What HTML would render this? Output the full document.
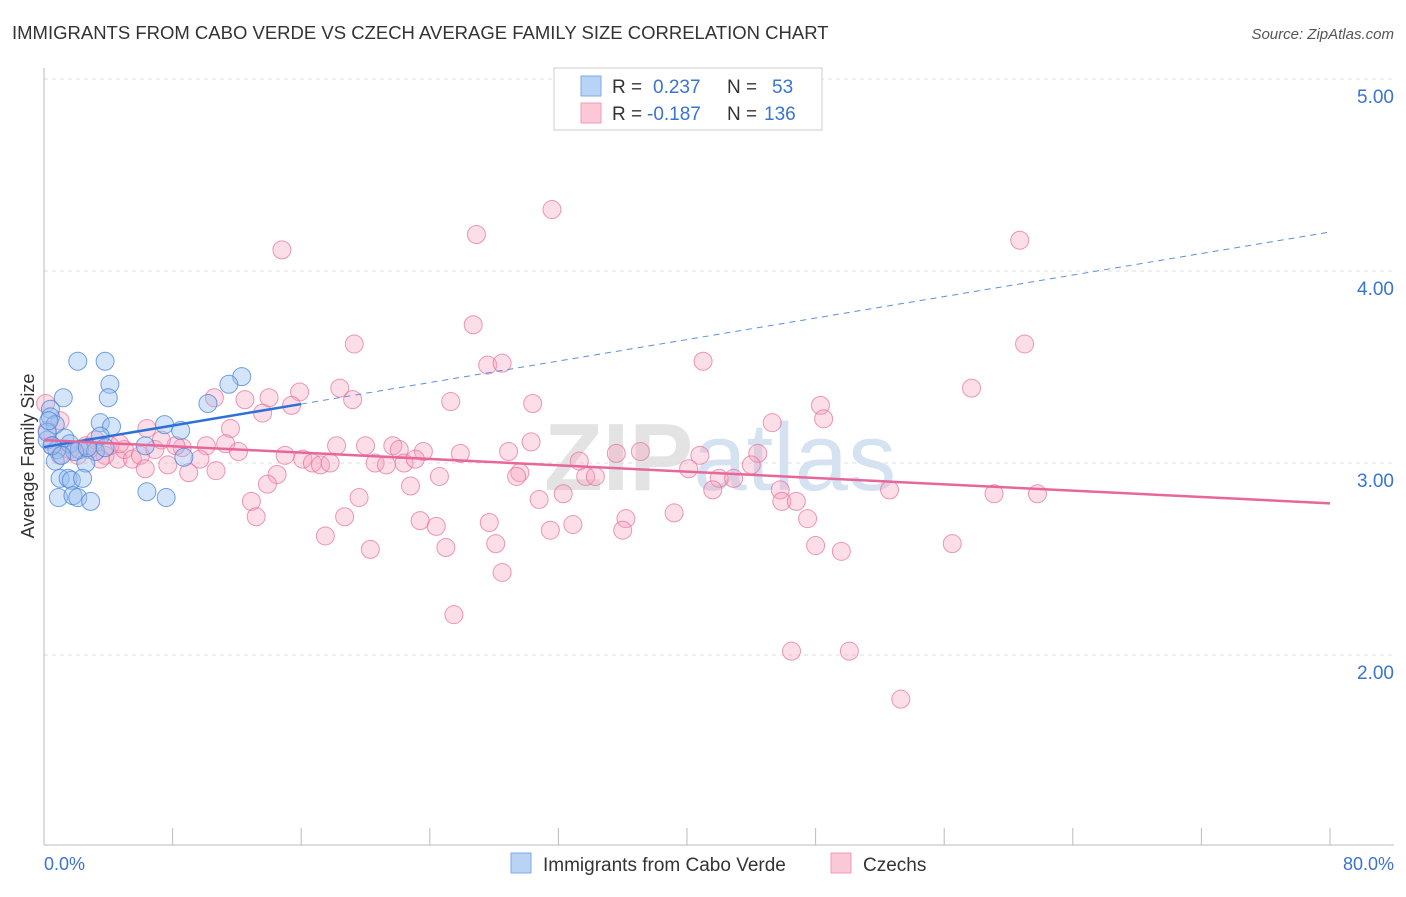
<!DOCTYPE html>
<html><head><meta charset="utf-8"><style>
body{margin:0;background:#fff;font-family:"Liberation Sans",sans-serif;}
svg text{font-family:"Liberation Sans",sans-serif;}
</style></head><body>
<svg id="chart" width="1406" height="892" viewBox="0 0 1406 892" xmlns="http://www.w3.org/2000/svg">
<text x="12" y="39" font-size="18.5" fill="#333">IMMIGRANTS FROM CABO VERDE VS CZECH AVERAGE FAMILY SIZE CORRELATION CHART</text>
<text x="1394" y="39" font-size="15" fill="#555" font-style="italic" text-anchor="end">Source: ZipAtlas.com</text>
<text x="720" y="490" font-size="96" fill="#e3e3e3" text-anchor="middle" font-family="Liberation Serif" font-weight="bold">ZIP<tspan fill="#d4e2f2" font-family="Liberation Sans" font-weight="normal">atlas</tspan></text>
<g id="grid"></g>
<g id="axes"></g>
<g id="pink"></g>
<g id="blue"></g>
<g id="trends"></g>
<text transform="translate(34,456) rotate(-90)" font-size="18" fill="#333" text-anchor="middle">Average Family Size</text>
<text x="44" y="870" font-size="18" fill="#3b73d1">0.0%</text>
<text x="1394" y="870" font-size="18" fill="#3b73d1" text-anchor="end">80.0%</text>
<g>
<rect x="554" y="68" width="268" height="62" fill="#fff" stroke="#ccc"/>
<rect x="581" y="76" width="20" height="20" fill="#b9d3f5" stroke="#7fa9e6"/>
<rect x="581" y="103" width="20" height="20" fill="#fbc8d8" stroke="#f09ab6"/>
<text x="612" y="93" font-size="19" fill="#333">R = </text><text x="653" y="93" font-size="19" fill="#3b73d1">0.237</text>
<text x="727" y="93" font-size="19" fill="#333">N = </text><text x="772" y="93" font-size="19" fill="#3b73d1">53</text>
<text x="612" y="120" font-size="19" fill="#333">R = </text><text x="647" y="120" font-size="19" fill="#3b73d1">-0.187</text>
<text x="727" y="120" font-size="19" fill="#333">N = </text><text x="764" y="120" font-size="19" fill="#3b73d1">136</text>
</g>
<g>
<rect x="511" y="853" width="20" height="20" fill="#b9d3f5" stroke="#7fa9e6"/>
<text x="543" y="871" font-size="19" fill="#333">Immigrants from Cabo Verde</text>
<rect x="831" y="853" width="20" height="20" fill="#fbc8d8" stroke="#f09ab6"/>
<text x="863" y="871" font-size="19" fill="#333">Czechs</text>
</g>
</svg>
<script>
const yTicks=[2,3,4,5];
const yTickLabels=["2.00","3.00","4.00","5.00"];
const blueX=[2.1,3.8,4.1,4.0,1.2,12.3,11.5,10.2,7.5,8.5,3.5,4.2,3.5,0.4,0.4,0.7,0.2,1.3,0.8,1.6,2.2,3.2,6.3,8.7,0.7,2.6,1.0,1.5,1.7,2.4,0.9,1.8,2.1,2.9,6.4,7.6,0.2,0.5,1.9,3.8,0.3,1.1,2.7];
const blueY=[3.53,3.53,3.41,3.34,3.34,3.45,3.41,3.31,3.20,3.17,3.21,3.19,3.14,3.28,3.24,3.20,3.12,3.13,3.07,3.10,3.07,3.06,3.09,3.03,3.01,3.00,2.92,2.92,2.91,2.92,2.82,2.83,2.82,2.80,2.85,2.82,3.16,3.09,3.06,3.08,3.22,3.04,3.08];
const pinkX=[14.8,31.6,26.9,60.7,26.7,19.3,61.0,41.0,27.6,28.5,57.7,18.4,15.9,14.0,10.6,12.5,19.2,25.3,30.4,48.3,15.4,13.6,48.5,45.3,6.4,11.6,0.1,1.0,30.3,37.1,18.2,20.0,21.7,22.1,10.1,8.6,11.3,15.0,16.1,12.1,23.6,25.9,28.9,33.3,35.6,40.8,44.4,16.7,17.2,17.8,20.6,21.3,22.4,23.1,40.1,44.0,24.6,29.6,29.4,33.7,34.3,42.0,42.9,14.5,13.9,22.8,32.3,30.8,41.6,45.8,45.9,46.8,52.6,59.1,61.8,19.6,12.9,13.2,18.7,23.4,27.7,36.2,39.2,47.5,24.4,31.5,32.9,36.0,17.5,28.1,25.0,20.3,48.0,49.6,56.5,28.5,25.5,46.5,50.1,53.3,0.2,0.5,1.6,2.6,3.2,3.8,4.6,5.0,5.5,6.0,6.9,6.3,7.7,8.2,9.0,9.7,10.7,4.1,1.0,2.1,3.5,2.8,7.3,4.7];
const pinkY=[4.11,4.32,4.19,4.16,3.72,3.62,3.62,3.53,3.51,3.52,3.39,3.39,3.37,3.34,3.34,3.33,3.33,3.32,3.31,3.30,3.30,3.26,3.23,3.21,3.18,3.18,3.31,3.22,3.11,3.06,3.09,3.09,3.09,3.07,3.09,3.08,3.10,3.04,3.02,3.06,3.06,3.05,3.06,3.01,3.05,3.04,3.05,3.00,2.99,3.00,3.00,2.99,3.00,3.02,2.97,2.99,2.93,2.95,2.93,2.93,2.93,2.92,2.92,2.94,2.89,2.88,2.84,2.81,2.86,2.86,2.80,2.80,2.86,2.84,2.84,2.82,2.80,2.72,2.72,2.70,2.69,2.71,2.74,2.71,2.67,2.65,2.68,2.65,2.62,2.58,2.56,2.55,2.57,2.54,2.58,2.43,2.21,2.02,2.02,1.77,3.17,3.09,3.07,3.09,3.12,3.04,3.02,3.07,3.02,3.04,3.07,2.97,2.99,3.09,2.95,3.02,2.96,3.09,3.04,3.04,3.02,3.07,3.12,3.10];
const blueTrend=[3.083,4.203];
const pinkTrend=[3.12,2.79];
const blueSolidEnd=16;

const X=v=>44+v/80*1286;
const Y=v=>79+(5-v)*192;
const NS="http://www.w3.org/2000/svg";
function mk(tag,attrs,parent){const e=document.createElementNS(NS,tag);for(const k in attrs)e.setAttribute(k,attrs[k]);parent.appendChild(e);return e;}
const grid=document.getElementById('grid'),axes=document.getElementById('axes');
yTicks.forEach((t,i)=>{
  const l=mk('line',{x1:44,x2:1394,y1:Y(t),y2:Y(t),stroke:'#ddd','stroke-dasharray':'4,4'},grid);
  
  
  const tx=mk('text',{x:1394,y:Y(t)+24,'font-size':19,fill:'#3b73d1','text-anchor':'end'},axes);
  tx.textContent=yTickLabels[i];
  
  
});
const ax=mk('line',{x1:44,x2:44,y1:68,y2:845,stroke:'#bbb'},axes);


const bx=mk('line',{x1:44,x2:1394,y1:845,y2:845,stroke:'#bbb'},axes);


for(let i=0;i<=10;i++){
  const t=mk('line',{x1:X(i*8),x2:X(i*8),y1:828,y2:845,stroke:'#bbb'},axes);
  
  
}
const pg=document.getElementById('pink'),bg=document.getElementById('blue');
pinkX.forEach((x,i)=>{
  const c=mk('circle',{cx:X(x),cy:Y(pinkY[i]),r:9,fill:'rgba(245,160,190,0.35)',stroke:'rgba(232,110,150,0.7)','stroke-width':1},pg);
  
  
});
blueX.forEach((x,i)=>{
  const c=mk('circle',{cx:X(x),cy:Y(blueY[i]),r:9,fill:'rgba(150,190,240,0.4)',stroke:'rgba(70,130,220,0.75)','stroke-width':1},bg);
  
  
});
const tg=document.getElementById('trends');
const by=x=>blueTrend[0]+(blueTrend[1]-blueTrend[0])*x/80;
const b1=mk('line',{x1:X(0),y1:Y(by(0)),x2:X(blueSolidEnd),y2:Y(by(blueSolidEnd)),stroke:'#2f6fd8','stroke-width':2.5},tg);


const b2=mk('line',{x1:X(blueSolidEnd),y1:Y(by(blueSolidEnd)),x2:X(80),y2:Y(by(80)),stroke:'#5b8fe0','stroke-width':1,'stroke-dasharray':'6,5'},tg);


const p1=mk('line',{x1:X(0),y1:Y(pinkTrend[0]),x2:X(80),y2:Y(pinkTrend[1]),stroke:'#e8679a','stroke-width':2.5},tg);


</script>
</body></html>
